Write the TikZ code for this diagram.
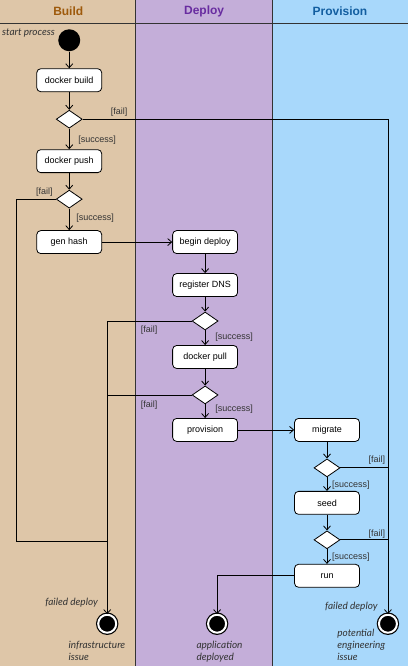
\documentclass[tikz,border=0pt]{standalone}
\usepackage{fontspec}
\setmainfont{Liberation Sans}
\newfontfamily\notefont{Lato}
\usetikzlibrary{shapes.geometric,arrows.meta,positioning}
\definecolor{buildbg}{RGB}{222,198,168}
\definecolor{deploybg}{RGB}{196,174,217}
\definecolor{provbg}{RGB}{168,216,251}
\definecolor{buildfg}{RGB}{158,90,12}
\definecolor{deployfg}{RGB}{104,44,160}
\definecolor{provfg}{RGB}{18,94,160}
\tikzset
{
    action/.style = {rectangle, rounded corners=4pt, draw=black, fill=white, minimum width=65pt, minimum height=23pt, font=\fontsize{9}{11}\selectfont},
    decision/.style = {diamond, draw=black, fill=white, minimum width=26pt, minimum height=18pt, inner sep=0pt},
    initial/.style = {circle, fill=black, minimum size=22pt, inner sep=0pt},
    final/.style = {circle, draw=black, double=white, double distance=2pt, line width=1.2pt, fill=black, minimum size=18pt, inner sep=0pt},
    guard/.style = {font=\fontsize{9}{11}\selectfont, text=black!80, inner sep=0pt},
    note/.style = {font=\notefont\itshape\fontsize{10}{12}\selectfont, text=black!80, inner sep=0pt, align=left},
    lanehead/.style = {font=\bfseries\fontsize{12}{14}\selectfont}
}
\begin{document}
\begin{tikzpicture}[x=1pt, y=-1pt, >={Straight Barb[length=4pt,width=7pt]}, thick]
% swimlanes
\fill[buildbg] (0,0) rectangle (135,666);
\fill[deploybg] (135,0) rectangle (272,666);
\fill[provbg] (272,0) rectangle (408,666);
\draw[black!80, semithick] (0,23) -- (408,23) (135,0) -- (135,666) (272,0) -- (272,666);
\node[lanehead, text=buildfg] (hbuild) at (68,11) {Build};
\node[lanehead, text=deployfg] (hdeploy) at (204,11) {Deploy};
\node[lanehead, text=provfg] (hprov) at (340,11) {Provision};
% build
\node[initial] (start) at (69,40) {};
\node[note, anchor=east] (startlbl) at (55,33) {start process};
\node[action] (build) at (69,80) {docker build};
\node[decision] (d1) at (69,119) {};
\node[action] (push) at (69,161) {docker push};
\node[decision] (d2) at (69,199) {};
\node[action] (hash) at (69,242) {gen hash};
% deploy
\node[action] (begin) at (205,242) {begin deploy};
\node[action] (dns) at (205,285) {register DNS};
\node[decision] (d3) at (205,321) {};
\node[action] (pull) at (205,357) {docker pull};
\node[decision] (d4) at (205,395) {};
\node[action] (prov) at (205,430) {provision};
% provision
\node[action] (migrate) at (327,430) {migrate};
\node[decision] (d5) at (327,468) {};
\node[action] (seed) at (327,503) {seed};
\node[decision] (d6) at (327,540) {};
\node[action] (run) at (327,576) {run};
% ends
\node[final] (fin1) at (107,624) {};
\node[final] (fin2) at (217,624) {};
\node[final] (fin3) at (388,624) {};
\node[note, anchor=east] (fail1lbl) at (98,603) {failed deploy};
\node[note, anchor=north west] (infra) at (68,641) {infrastructure\\issue};
\node[note, anchor=north west] (appdep) at (196,641) {application\\deployed};
\node[note, anchor=east] (fail3lbl) at (378,607) {failed deploy};
\node[note, anchor=north west] (eng) at (337,629) {potential\\engineering\\issue};
% guards
\node[guard] (g1f) at (119,112) {[fail]};
\node[guard] (g1s) at (97,140) {[success]};
\node[guard] (g2f) at (44,192) {[fail]};
\node[guard] (g2s) at (95,218) {[success]};
\node[guard] (g3f) at (149,330) {[fail]};
\node[guard] (g3s) at (234,337) {[success]};
\node[guard] (g4f) at (149,405) {[fail]};
\node[guard] (g4s) at (234,409) {[success]};
\node[guard] (g5f) at (377,460) {[fail]};
\node[guard] (g5s) at (351,485) {[success]};
\node[guard] (g6f) at (377,534) {[fail]};
\node[guard] (g6s) at (351,557) {[success]};
% flow
\draw[->] (start) -- (build);
\draw[->] (build) -- (d1);
\draw[->] (d1) -- (push);
\draw[->] (push) -- (d2);
\draw[->] (d2) -- (hash);
\draw[->] (hash) -- (begin);
\draw[->] (begin) -- (dns);
\draw[->] (dns) -- (d3);
\draw[->] (d3) -- (pull);
\draw[->] (pull) -- (d4);
\draw[->] (d4) -- (prov);
\draw[->] (prov) -- (migrate);
\draw[->] (migrate) -- (d5);
\draw[->] (d5) -- (seed);
\draw[->] (seed) -- (d6);
\draw[->] (d6) -- (run);
\draw[->] (run.west) -| (fin2);
% failures
\coordinate (bus) at (16,542);
\draw[->] (d1.east) -| (fin3);
\draw (d5.east) -- (d5.east -| fin3);
\draw (d6.east) -- (d6.east -| fin3);
\draw (d2.west) -| (bus) -- (bus -| fin1);
\draw[->] (d3.west) -| (fin1);
\draw (d4.west) -- (d4.west -| fin1);
\end{tikzpicture}
\end{document}
